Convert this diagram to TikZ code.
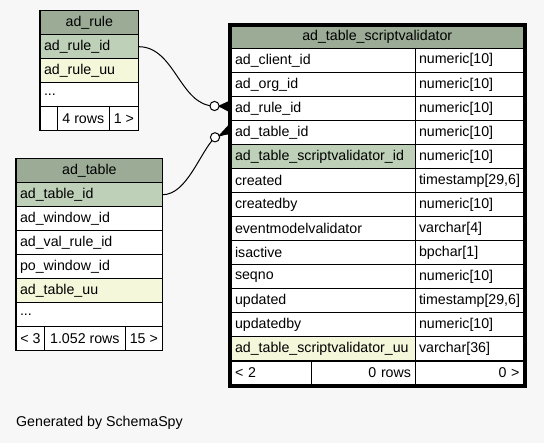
\documentclass[tikz,border=0pt]{standalone}
\usepackage{fontspec}
\setmainfont{Liberation Sans}
\usetikzlibrary{calc}
\definecolor{hdrgreen}{HTML}{9BAB96}
\definecolor{pkgreen}{HTML}{BED1B8}
\definecolor{uuyellow}{HTML}{F4F7DA}
\definecolor{pagegray}{HTML}{F7F7F7}
\begin{document}
\begin{tikzpicture}[x=1bp, y=-1bp,
	cell/.style={draw=black, line width=0.9bp, fill=white, anchor=north west, outer sep=0pt, minimum height=24bp, inner xsep=4bp, inner ysep=0bp, font=\fontsize{14.2bp}{17bp}\selectfont},
	lcol/.style={cell, text width=#1, align=left},
	ccol/.style={cell, text width=#1, align=center},
	rcol/.style={cell, text width=#1, align=right},
	ftcell/.style={cell, inner xsep=2bp, minimum width=#1},
	hdr/.style={fill=hdrgreen},
	key/.style={fill=pkgreen},
	uniq/.style={fill=uuyellow},
	tblframe/.style={draw=black, line width=1.2bp},
	fkline/.style={draw=black, line width=1bp}]
	\useasboundingbox[fill=pagegray] (0,0) rectangle (544,443);
	\node[ccol=90.7bp, hdr] (rule-hd) at (40,10.7) {ad\_rule};
	\node[lcol=90.7bp, key] (rule-id) at (40,34.7) {ad\_rule\_id};
	\node[lcol=90.7bp, uniq] (rule-uu) at (40,58.7) {ad\_rule\_uu};
	\node[lcol=90.7bp] (rule-more) at (40,82.7) {...};
	\node[ftcell=17.7bp] (rule-prev) at (40,106.7) {};
	\node[ftcell=51.3bp] (rule-rows) at (57.7,106.7) {4 rows};
	\node[ftcell=29.7bp] (rule-next) at (109,106.7) {1 >};
	\draw[tblframe] (rule-hd.north west) rectangle (rule-next.south east);
	\node[ccol=138.7bp, hdr] (tbl-hd) at (16,158.7) {ad\_table};
	\node[lcol=138.7bp, key] (tbl-id) at (16,182.7) {ad\_table\_id};
	\node[lcol=138.7bp] (tbl-win) at (16,206.7) {ad\_window\_id};
	\node[lcol=138.7bp] (tbl-val) at (16,230.7) {ad\_val\_rule\_id};
	\node[lcol=138.7bp] (tbl-po) at (16,254.7) {po\_window\_id};
	\node[lcol=138.7bp, uniq] (tbl-uu) at (16,278.7) {ad\_table\_uu};
	\node[lcol=138.7bp] (tbl-more) at (16,302.7) {...};
	\node[ftcell=28.7bp] (tbl-prev) at (16,326.7) {< 3};
	\node[ftcell=80.3bp] (tbl-rows) at (44.7,326.7) {1.052 rows};
	\node[ftcell=37.7bp] (tbl-next) at (125,326.7) {15 >};
	\draw[tblframe] (tbl-hd.north west) rectangle (tbl-next.south east);
	\node[ccol=284.5bp, hdr, minimum height=22.3bp] (sv-hd) at (231,26) {ad\_table\_scriptvalidator};
	\node[lcol=176bp] (sv-client) at (231,48.3) {ad\_client\_id};
	\node[lcol=100.5bp] (sv-client-t) at (415,48.3) {numeric[10]};
	\node[lcol=176bp] (sv-org) at (231,72.35) {ad\_org\_id};
	\node[lcol=100.5bp] (sv-org-t) at (415,72.35) {numeric[10]};
	\node[lcol=176bp] (sv-rule) at (231,96.4) {ad\_rule\_id};
	\node[lcol=100.5bp] (sv-rule-t) at (415,96.4) {numeric[10]};
	\node[lcol=176bp] (sv-table) at (231,120.45) {ad\_table\_id};
	\node[lcol=100.5bp] (sv-table-t) at (415,120.45) {numeric[10]};
	\node[lcol=176bp, key] (sv-id) at (231,144.5) {ad\_table\_scriptvalidator\_id};
	\node[lcol=100.5bp] (sv-id-t) at (415,144.5) {numeric[10]};
	\node[lcol=176bp] (sv-created) at (231,168.55) {created};
	\node[lcol=100.5bp] (sv-created-t) at (415,168.55) {timestamp[29,6]};
	\node[lcol=176bp] (sv-createdby) at (231,192.6) {createdby};
	\node[lcol=100.5bp] (sv-createdby-t) at (415,192.6) {numeric[10]};
	\node[lcol=176bp] (sv-event) at (231,216.65) {eventmodelvalidator};
	\node[lcol=100.5bp] (sv-event-t) at (415,216.65) {varchar[4]};
	\node[lcol=176bp] (sv-active) at (231,240.7) {isactive};
	\node[lcol=100.5bp] (sv-active-t) at (415,240.7) {bpchar[1]};
	\node[lcol=176bp] (sv-seqno) at (231,264.75) {seqno};
	\node[lcol=100.5bp] (sv-seqno-t) at (415,264.75) {numeric[10]};
	\node[lcol=176bp] (sv-updated) at (231,288.8) {updated};
	\node[lcol=100.5bp] (sv-updated-t) at (415,288.8) {timestamp[29,6]};
	\node[lcol=176bp] (sv-updatedby) at (231,312.85) {updatedby};
	\node[lcol=100.5bp] (sv-updatedby-t) at (415,312.85) {numeric[10]};
	\node[lcol=176bp, uniq] (sv-uu) at (231,336.9) {ad\_table\_scriptvalidator\_uu};
	\node[lcol=100.5bp] (sv-uu-t) at (415,336.9) {varchar[36]};
	\node[lcol=72bp, minimum height=23.5bp] (sv-prev) at (231,361) {< 2};
	\node[rcol=96bp, minimum height=23.5bp] (sv-rows) at (311,361) {0 rows};
	\node[rcol=100.5bp, minimum height=23.5bp] (sv-next) at (415,361) {0 >};
	\draw[line width=3bp] ($(sv-hd.north west)+(-1.5,-1.5)$) rectangle ($(sv-next.south east)+(1.5,1.5)$);
	\coordinate (o-rule) at (214.5,106);
	\coordinate (o-table) at (215,137.3);
	\draw[fkline] (rule-id.east) .. controls (175,46.7) and (180,106) .. (o-rule) -- (sv-rule.west);
	\fill ($(o-rule)+(3.5,0)$) -- ($(sv-rule.west)+(-3,-7)$) -- ($(sv-rule.west)+(-3,3)$) -- cycle;
	\draw[fkline, fill=white] (o-rule) circle[radius=4.6bp];
	\draw[fkline] (tbl-id.east) .. controls (187,194.7) and (200,152) .. (o-table) -- (sv-table.west);
	\fill ($(o-table)+(3.5,-1.5)$) -- ($(sv-table.west)+(-3,-7)$) -- ($(sv-table.west)+(-3,2)$) -- cycle;
	\draw[fkline, fill=white] (o-table) circle[radius=4.6bp];
	\node[anchor=west, inner sep=0pt, font=\fontsize{14.2bp}{17bp}\selectfont] (credit) at (16,423) {Generated by SchemaSpy};
\end{tikzpicture}
\end{document}
